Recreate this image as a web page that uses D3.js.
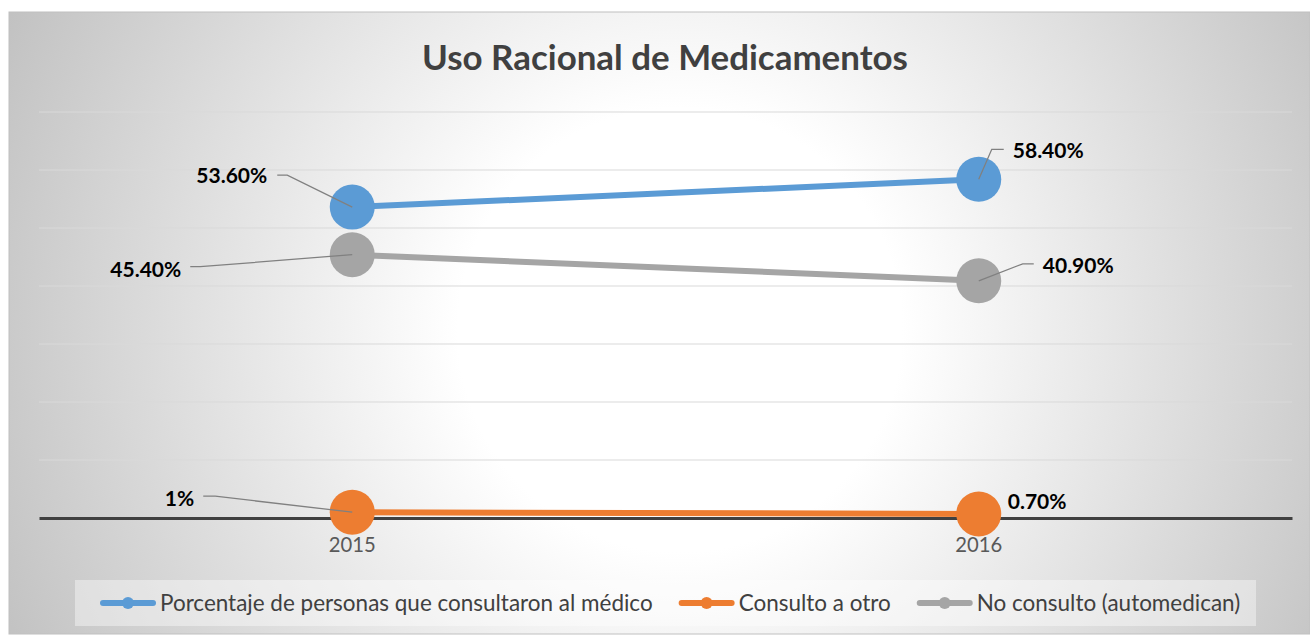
<!DOCTYPE html>
<html>
<head>
<meta charset="utf-8">
<title>Uso Racional de Medicamentos</title>
<script src="https://d3js.org/d3.v7.min.js"></script>
<style>
    body { margin: 0; background: #fff; }
    svg { display: block; font-family: Lato, "Open Sans", sans-serif; }
    .grid line { stroke: #d9d9d9; stroke-width: 1px; }
    .tick text { fill: #595959; }
    .leader { fill: none; stroke: #808080; stroke-width: 1.3px; }
    .dlabel { font-weight: bold; fill: #000; }
</style>
</head>
<body>
<script>
// data
const years = ["2015", "2016"];
const seriesNames = ["Porcentaje de personas que consultaron al médico", "Consulto a otro", "No consulto (automedican)"];
const medico = [53.6, 58.4];
const otro = [1, 0.7];
const automedican = [45.4, 40.9];
const labelsMedico = ["53.60%", "58.40%"];
const labelsOtro = ["1%", "0.70%"];
const labelsAuto = ["45.40%", "40.90%"];
const colors = ["#5b9bd5", "#ed7d31", "#a5a5a5"];

// label layout: elbow offset, line start offset, text anchor offset (relative to point)
const labelLayout = [
    [ {ex:-65, ey:-32, sx:-75, tx:-85, ty:-31, a:"end"}, {ex:13, ey:-30, sx:25, tx:34, ty:-29, a:"start"} ],
    [ {ex:-137, ey:-16, sx:-149, tx:-158, ty:-14, a:"end"}, {ex:null, tx:29, ty:-12, a:"start"} ],
    [ {ex:-152, ey:12, sx:-162, tx:-171, ty:15, a:"end"}, {ex:44, ey:-17, sx:55, tx:64, ty:-15, a:"start"} ]
];

const series = [
    {name: seriesNames[0], values: medico, labels: labelsMedico},
    {name: seriesNames[1], values: otro, labels: labelsOtro},
    {name: seriesNames[2], values: automedican, labels: labelsAuto}
];

const W = 1310, H = 635;
const svg = d3.select("body").append("svg").attr("width", W).attr("height", H);

// pick a font size so a sample string gets a given width
function fitSize(str, width, weight) {
    const t = svg.append("text").attr("font-size", 100).attr("font-weight", weight || "normal").text(str);
    const w = t.node().getComputedTextLength();
    t.remove();
    return 100 * width / w;
}
const titleSize = fitSize("Uso Racional de Medicamentos", 486, "bold");
const labelSize = fitSize("53.60%", 71, "bold");
const legendSize = fitSize(seriesNames[0], 493);
const tickSize = fitSize("2015", 47);

const defs = svg.append("defs");
const grad = defs.append("radialGradient")
    .attr("id", "bg")
    .attr("gradientUnits", "userSpaceOnUse")
    .attr("cx", 680).attr("cy", 330).attr("r", 740);
grad.append("stop").attr("offset", 0).attr("stop-color", "#ffffff");
grad.append("stop").attr("offset", 0.3).attr("stop-color", "#ffffff");
grad.append("stop").attr("offset", 1).attr("stop-color", "#c2c2c2");

// chart area
svg.append("rect")
    .attr("x", 9).attr("y", 12).attr("width", W - 9).attr("height", 622)
    .attr("fill", "url(#bg)")
    .attr("stroke", "#c0c0c0").attr("stroke-width", 1);

// title
svg.append("text")
    .attr("x", 665).attr("y", 58).attr("dy", "0.35em")
    .attr("text-anchor", "middle")
    .attr("font-size", titleSize).attr("font-weight", "bold")
    .attr("fill", "#404040")
    .text("Uso Racional de Medicamentos");

const x = d3.scaleBand().domain(years).range([39, 1292]);
const y = d3.scaleLinear().domain([0, 70]).range([518, 112]);
const cx = d => x(d) + x.bandwidth() / 2;

// gridlines
svg.append("g").attr("class", "grid")
    .selectAll("line")
    .data(d3.range(10, 71, 10))
    .join("line")
    .attr("x1", 39).attr("x2", 1292)
    .attr("y1", d => y(d)).attr("y2", d => y(d));

// x axis
const xAxis = svg.append("g")
    .attr("transform", "translate(0,518)")
    .call(d3.axisBottom(x).tickSize(0).tickPadding(20));
xAxis.select(".domain").attr("stroke", "#404040").attr("stroke-width", 3);
xAxis.selectAll(".tick text").attr("font-size", tickSize).attr("font-family", "Lato, sans-serif");

// lines and markers
const line = d3.line().x((d, i) => cx(years[i])).y(d => y(d));
const draw = [0, 2, 1];
draw.forEach(si => {
    const s = series[si];
    const g = svg.append("g");
    g.append("path")
        .attr("d", line(s.values))
        .attr("fill", "none")
        .attr("stroke", colors[si])
        .attr("stroke-width", 6);
    g.selectAll("circle")
        .data(s.values)
        .join("circle")
        .attr("cx", (d, i) => cx(years[i]))
        .attr("cy", d => y(d))
        .attr("r", 22.5)
        .attr("fill", colors[si]);
});

// data labels
series.forEach((s, si) => {
    s.values.forEach((v, i) => {
        const px = cx(years[i]), py = y(v);
        const L = labelLayout[si][i];
        if (L.ex !== null) {
            svg.append("path")
                .attr("class", "leader")
                .attr("d", d3.line()([[px + L.sx, py + L.ey], [px + L.ex, py + L.ey], [px, py]]));
        }
        svg.append("text")
            .attr("class", "dlabel")
            .attr("x", px + L.tx).attr("y", py + L.ty)
            .attr("dy", "0.35em")
            .attr("text-anchor", L.a)
            .attr("font-size", labelSize)
            .text(s.labels[i]);
    });
});

// legend
svg.append("rect")
    .attr("x", 75).attr("y", 580).attr("width", 1181).attr("height", 46)
    .attr("fill", "#ffffff").attr("fill-opacity", 0.4);

const leg = svg.append("g");
let lx = 100;
const ly = 603;
seriesNames.forEach((name, i) => {
    const it = leg.append("g");
    it.append("line")
        .attr("x1", lx + 3).attr("x2", lx + 53).attr("y1", ly).attr("y2", ly)
        .attr("stroke", colors[i]).attr("stroke-width", 6).attr("stroke-linecap", "round");
    it.append("circle").attr("cx", lx + 28).attr("cy", ly).attr("r", 6).attr("fill", colors[i]);
    const t = it.append("text")
        .attr("x", lx + 60).attr("y", ly).attr("dy", "0.35em")
        .attr("font-size", legendSize).attr("fill", "#404040")
        .text(name);
    lx += 60 + t.node().getComputedTextLength() + 26;
});
</script>
</body>
</html>
